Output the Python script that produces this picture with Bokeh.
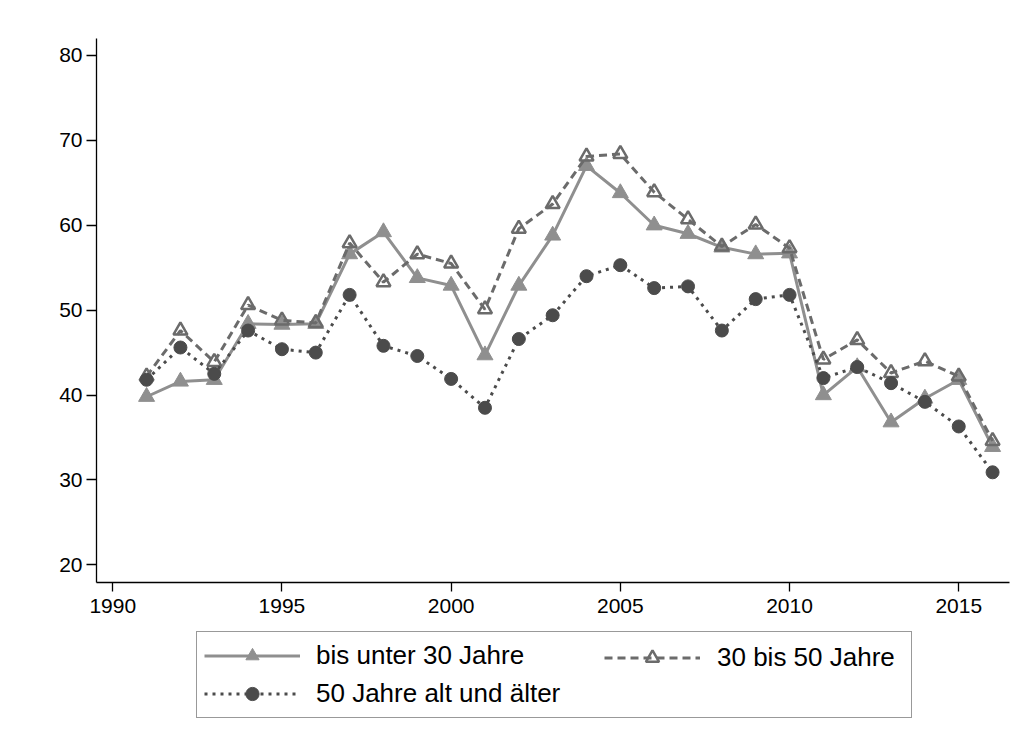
from bokeh.plotting import figure
from bokeh.layouts import column
from bokeh.models import Legend, LegendItem, FixedTicker
from bokeh.embed import file_html
from bokeh.resources import INLINE

years = [1991, 1992, 1993, 1994, 1995, 1996, 1997, 1998, 1999, 2000, 2001, 2002, 2003,
         2004, 2005, 2006, 2007, 2008, 2009, 2010, 2011, 2012, 2013, 2014, 2015, 2016]

bis_unter_30 = [39.8, 41.6, 41.8, 48.4, 48.3, 48.4, 56.6, 59.2, 53.8, 52.9, 44.7, 52.9, 58.8,
                67.0, 63.8, 60.0, 59.0, 57.4, 56.6, 56.7, 40.0, 43.3, 36.8, 39.6, 41.8, 33.9]
j30_bis_50 = [42.2, 47.6, 43.9, 50.6, 48.8, 48.5, 57.9, 53.3, 56.6, 55.5, 50.1, 59.6, 62.5,
              68.1, 68.4, 63.9, 60.7, 57.5, 60.1, 57.3, 44.2, 46.5, 42.6, 44.0, 42.2, 34.6]
ab_50 = [41.8, 45.6, 42.5, 47.6, 45.4, 45.0, 51.8, 45.8, 44.6, 41.9, 38.5, 46.6, 49.4,
         54.0, 55.3, 52.6, 52.8, 47.6, 51.3, 51.8, 42.0, 43.3, 41.4, 39.2, 36.3, 30.9]

labels = ["bis unter 30 Jahre", "30 bis 50 Jahre", "50 Jahre alt und älter"]
x_ticks = [1990, 1995, 2000, 2005, 2010, 2015]
y_ticks = [20, 30, 40, 50, 60, 70, 80]

FONT = "Liberation Sans"
c1, c2, c3 = "#8f8f8f", "#6b6b6b", "#4b4b4b"

W = 1018
p = figure(width=W, height=622, output_backend="svg", toolbar_location=None,
           x_range=(1989.52, 2016.5), y_range=(17.92, 82.0),
           min_border_left=96, min_border_right=9, min_border_top=38, min_border_bottom=40)
p.outline_line_color = None
p.background_fill_color = "white"
p.border_fill_color = "white"
p.xgrid.visible = False
p.ygrid.visible = False

for ax in (p.xaxis[0], p.yaxis[0]):
    ax.axis_line_color = "black"
    ax.axis_line_width = 1.3
    ax.major_tick_line_color = "black"
    ax.major_tick_line_width = 1.3
    ax.major_tick_in = 0
    ax.minor_tick_line_color = None
    ax.major_label_text_font = FONT
    ax.major_label_text_font_size = "21px"
    ax.major_label_text_color = "black"

p.xaxis.ticker = FixedTicker(ticks=x_ticks)
p.yaxis.ticker = FixedTicker(ticks=y_ticks)
p.xaxis.major_tick_out = 9
p.yaxis.major_tick_out = 10
p.xaxis.major_label_standoff = 7
p.yaxis.major_label_standoff = 4


def draw(fig, xs, s1, s2, s3):
    l1 = fig.line(xs, s1, line_color=c1, line_width=3)
    m1 = fig.scatter(xs, s1, marker="triangle", size=16, fill_color=c1, line_color=c1, line_width=1)
    l2 = fig.line(xs, s2, line_color=c2, line_width=3, line_dash="8 5")
    m2 = fig.scatter(xs, s2, marker="triangle", size=14, fill_color=None, line_color=c2, line_width=2.5)
    l3 = fig.line(xs, s3, line_color=c3, line_width=3, line_dash="3 5")
    m3 = fig.scatter(xs, s3, marker="circle", size=13, fill_color=c3, line_color=c3, line_width=1)
    return (l1, m1), (l2, m2), (l3, m3)


draw(p, years, bis_unter_30, j30_bis_50, ab_50)

# legend panel below the chart: same series, ranges chosen so that nothing shows but the legend
q = figure(width=W, height=114, output_backend="svg", toolbar_location=None,
           x_range=(0, 1), y_range=(0, 1), x_axis_location=None, y_axis_location=None,
           min_border_left=96, min_border_right=9, min_border_top=0, min_border_bottom=0)
q.outline_line_color = None
q.xgrid.visible = False
q.ygrid.visible = False
r1, r2, r3 = draw(q, years, bis_unter_30, j30_bis_50, ab_50)

common = dict(glyph_width=96, glyph_height=33, label_height=33, padding=7,
              label_text_font=FONT, label_text_font_size="26px", label_text_color="black",
              margin=0)

leg1 = Legend(items=[LegendItem(label=labels[0], renderers=list(r1)),
                     LegendItem(label=labels[2], renderers=list(r3))],
              location=(100, 18), label_standoff=16, label_width=588, spacing=5,
              border_line_color="#333333", border_line_width=1.2,
              background_fill_color="white", background_fill_alpha=1.0, **common)
leg2 = Legend(items=[LegendItem(label=labels[1], renderers=list(r2))],
              location=(508, 62), label_standoff=17, spacing=5,
              border_line_color=None, background_fill_alpha=0.0, **common)
q.add_layout(leg1, "center")
q.add_layout(leg2, "center")

layout = column(p, q, spacing=0)
open("out.html", "w").write(file_html(layout, INLINE))
